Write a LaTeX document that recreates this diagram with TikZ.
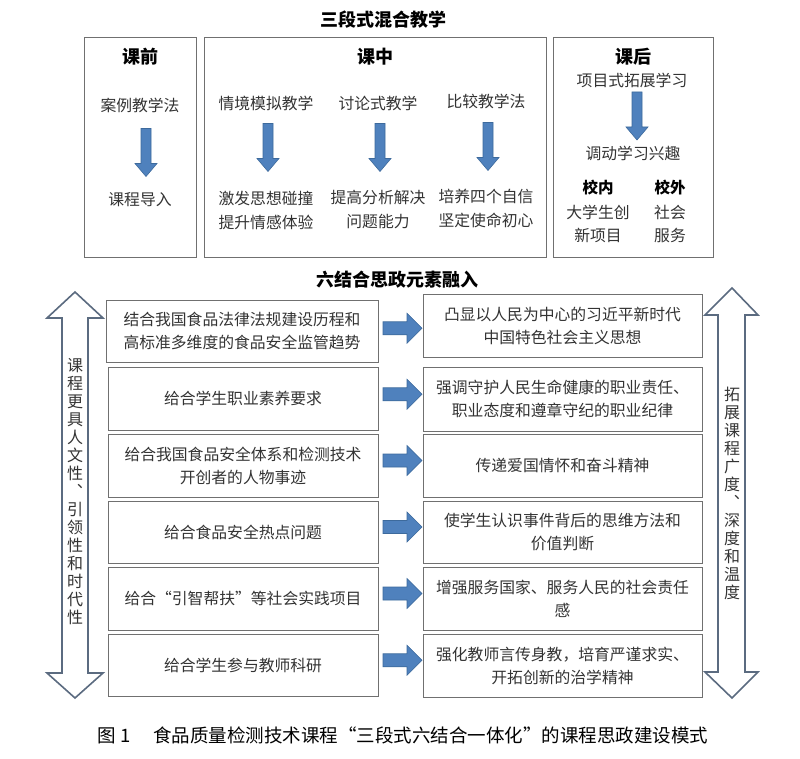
\documentclass[tikz,border=0pt]{standalone}
\usepackage{fontspec}
\newfontfamily\cjk{Noto Sans CJK SC}
\usetikzlibrary{calc}
\definecolor{boxgray}{HTML}{707070}
\definecolor{arrblue}{HTML}{4F81BD}
\definecolor{arrdark}{HTML}{3D6A9C}
\definecolor{slate}{HTML}{5B6B80}
\definecolor{txtc}{HTML}{333333}
\begin{document}
\begin{tikzpicture}[x=1pt,y=-1pt,
  tbox/.style={draw=boxgray, line width=1pt, inner sep=0},
  lbox/.style={draw=boxgray, line width=1pt, inner sep=0, align=center,
    font=\cjk\fontsize{15.8}{23}\selectfont, text=txtc},
  txt/.style={font=\cjk\fontsize{15.8}{24}\selectfont, text=txtc, align=center, inner sep=0},
  ttl/.style={font=\cjk\bfseries\fontsize{18}{22}\selectfont, text=black, inner sep=0},
  hd/.style={font=\cjk\bfseries\fontsize{18}{22}\selectfont, text=black, inner sep=0},
  sub/.style={font=\cjk\bfseries\fontsize{15.5}{20}\selectfont, text=black, inner sep=0},
  vtxt/.style={font=\cjk\fontsize{16}{18}\selectfont, text=txtc, align=center, inner sep=0},
  captxt/.style={font=\cjk\fontsize{18.5}{22}\selectfont, text=black, inner sep=0},
  blu/.style={fill=arrblue, draw=arrdark, line width=0.6pt},
  big/.style={fill=white, draw=slate, line width=1.6pt, line join=miter},
  harr/.pic={\path[blu] (-19.5,-6.5) -- (4.5,-6.5) -- (4.5,-15) -- (19.5,0) -- (4.5,15) -- (4.5,6.5) -- (-19.5,6.5) -- cycle;},
  varr/.pic={\path[blu] (-5,-24) -- (5,-24) -- (5,11) -- (11,11) -- (0,24) -- (-11,11) -- (-5,11) -- cycle;}
]
\useasboundingbox (0,0) rectangle (800,759);
\fill[white] (0,0) rectangle (800,759);

% ---------- top part ----------
\node[ttl] (title1) at (383,20) {三段式混合教学};

\node[tbox, minimum width=112, minimum height=220] (pre) at (140,148) {};
\node[tbox, minimum width=342, minimum height=220] (mid) at (375,148) {};
\node[tbox, minimum width=160, minimum height=220] (post) at (633,148) {};

% pre
\node[hd] (preh) at (140,57) {课前};
\node[txt] (pre1) at (140,105) {案例教学法};
\path (146,152.5) pic {varr};
\node[txt] (pre2) at (140,200) {课程导入};

% mid
\node[hd] (midh) at (375,57) {课中};
\node[txt] (m1a) at (266,103) {情境模拟教学};
\node[txt] (m2a) at (378,103) {讨论式教学};
\node[txt] (m3a) at (486,101) {比较教学法};
\path (268,147.5) pic {varr};
\path (380,147.5) pic {varr};
\path (488,146.5) pic {varr};
\node[txt] (m1b) at (266,210) {激发思想碰撞\\提升情感体验};
\node[txt] (m2b) at (378,210) {提高分析解决\\问题能力};
\node[txt] (m3b) at (486,208) {培养四个自信\\坚定使命初心};

% post
\node[hd] (posth) at (633,57) {课后};
\node[txt] (p1) at (632,80) {项目式拓展学习};
\path (637,116) pic {varr};
\node[txt] (p2) at (633,153) {调动学习兴趣};
\node[sub] (in) at (598,188) {校内};
\node[sub] (out) at (670,188) {校外};
\node[txt, font=\cjk\fontsize{15.8}{23}\selectfont] (inb) at (598,223.5) {大学生创\\新项目};
\node[txt, font=\cjk\fontsize{15.8}{23}\selectfont] (outb) at (670,223.5) {社会\\服务};

% ---------- bottom part ----------
\node[ttl] (title2) at (397,280) {六结合思政元素融入};

% big double arrows
\path[big] (75,292) -- (103,318) -- (88,318) -- (88,673) -- (103,673) -- (75,698)
  -- (47,673) -- (62,673) -- (62,318) -- (47,318) -- cycle;
\path[big] (732,288) -- (758,315) -- (745,315) -- (745,672) -- (758,672) -- (732,698)
  -- (705,672) -- (718,672) -- (718,315) -- (705,315) -- cycle;
\node[vtxt] (lefttxt) at (75,492) {课\\程\\更\\具\\人\\文\\性\\︑\\引\\领\\性\\和\\时\\代\\性};
\node[vtxt] (righttxt) at (732,493.5) {拓\\展\\课\\程\\广\\度\\︑\\深\\度\\和\\温\\度};

% left boxes
\node[lbox, minimum width=272, minimum height=62] (L1) at (242,331) {结合我国食品法律法规建设历程和\\高标准多维度的食品安全监管趋势};
\node[lbox, minimum width=270, minimum height=63] (L2) at (243,398.5) {给合学生职业素养要求};
\node[lbox, minimum width=270, minimum height=63] (L3) at (243,465.5) {给合我国食品安全体系和检测技术\\开创者的人物事迹};
\node[lbox, minimum width=270, minimum height=62] (L4) at (243,532) {给合食品安全热点问题};
\node[lbox, minimum width=270, minimum height=63] (L5) at (243,598.5) {给合“引智帮扶”等社会实践项目};
\node[lbox, minimum width=270, minimum height=62] (L6) at (243,665) {给合学生参与教师科研};

% right boxes
\node[lbox, minimum width=279, minimum height=63] (R1) at (562.5,325.5) {凸显以人民为中心的习近平新时代\\中国特色社会主义思想};
\node[lbox, minimum width=279, minimum height=64] (R2) at (562.5,399) {强调守护人民生命健康的职业责任、\\职业态度和遵章守纪的职业纪律};
\node[lbox, minimum width=279, minimum height=63] (R3) at (562.5,465.5) {传递爱国情怀和奋斗精神};
\node[lbox, minimum width=279, minimum height=62] (R4) at (562.5,532) {使学生认识事件背后的思维方法和\\价值判断};
\node[lbox, minimum width=279, minimum height=63] (R5) at (562.5,598.5) {增强服务国家、服务人民的社会责任\\感};
\node[lbox, minimum width=279, minimum height=63] (R6) at (562.5,665.5) {强化教师言传身教，培育严谨求实、\\开拓创新的治学精神};

% blue connectors between boxes
\path ($(L1.east)!0.5!(R1.west)+(2,0)$) pic {harr};
\path ($(L2.east)!0.5!(R2.west)+(2,-4.5)$) pic {harr};
\path ($(L3.east)!0.5!(R3.west)+(2,-5)$) pic {harr};
\path ($(L4.east)!0.5!(R4.west)+(2,-5)$) pic {harr};
\path ($(L5.east)!0.5!(R5.west)+(2,-5)$) pic {harr};
\path ($(L6.east)!0.5!(R6.west)+(2,-5)$) pic {harr};

% caption
\node[captxt] (caption) at (403,735) {图\hspace{0.25em}1\hspace{1.2em}食品质量检测技术课程“三段式六结合一体化”的课程思政建设模式};
\end{tikzpicture}
\end{document}
